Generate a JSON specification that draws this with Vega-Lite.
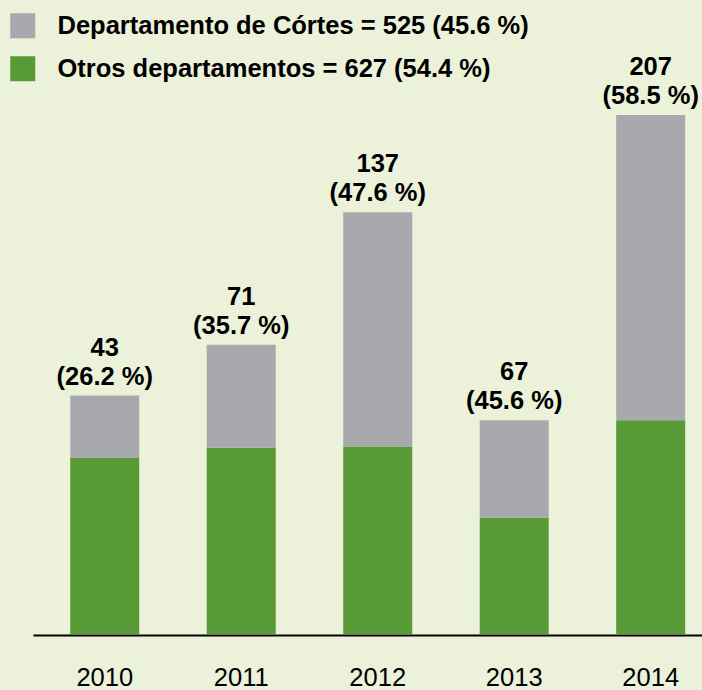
{
  "$schema": "https://vega.github.io/schema/vega-lite/v6.json",
  "width": 669,
  "height": 634,
  "autosize": {"type": "none"},
  "padding": {"left": 33, "top": 0, "right": 0, "bottom": 56},
  "background": "#ebf2d9",
  "config": {"view": {"stroke": null}, "font": "Liberation Sans"},
  "datasets": {
    "bars": [
      {"year": "2010", "dept": "Otros departamentos = 627 (54.4 %)", "value": 121},
      {"year": "2010", "dept": "Departamento de Córtes = 525 (45.6 %)", "value": 43},
      {"year": "2011", "dept": "Otros departamentos = 627 (54.4 %)", "value": 128},
      {"year": "2011", "dept": "Departamento de Córtes = 525 (45.6 %)", "value": 71},
      {"year": "2012", "dept": "Otros departamentos = 627 (54.4 %)", "value": 129},
      {"year": "2012", "dept": "Departamento de Córtes = 525 (45.6 %)", "value": 161},
      {"year": "2013", "dept": "Otros departamentos = 627 (54.4 %)", "value": 80},
      {"year": "2013", "dept": "Departamento de Córtes = 525 (45.6 %)", "value": 67},
      {"year": "2014", "dept": "Otros departamentos = 627 (54.4 %)", "value": 147},
      {"year": "2014", "dept": "Departamento de Córtes = 525 (45.6 %)", "value": 210}
    ],
    "labels": [
      {"year": "2010", "n": "43", "pct": "(26.2 %)"},
      {"year": "2011", "n": "71", "pct": "(35.7 %)"},
      {"year": "2012", "n": "137", "pct": "(47.6 %)"},
      {"year": "2013", "n": "67", "pct": "(45.6 %)"},
      {"year": "2014", "n": "207", "pct": "(58.5 %)"}
    ]
  },
  "data": {"name": "bars"},
  "encoding": {
    "x": {
      "field": "year",
      "type": "nominal",
      "scale": {"paddingInner": 0.4945, "paddingOuter": 0.198, "align": 0.689},
      "axis": {
        "title": null,
        "domainColor": "black",
        "domainWidth": 2,
        "ticks": false,
        "tickSize": 0,
        "labelFontSize": 25.5,
        "labelColor": "black",
        "labelBaseline": "alphabetic",
        "labelPadding": 50,
        "offset": 1,
        "labelAngle": 0,
        "labelFont": "Liberation Sans"
      }
    }
  },
  "layer": [
    {
      "mark": {"type": "bar"},
      "encoding": {
        "y": {"field": "value", "type": "quantitative", "stack": "zero", "scale": {"domain": [0, 436]}, "axis": null},
        "color": {
          "field": "dept",
          "type": "nominal",
          "scale": {
            "domain": ["Departamento de Córtes = 525 (45.6 %)", "Otros departamentos = 627 (54.4 %)"],
            "range": ["#a7a9ac", "#589a35"]
          },
          "legend": {
            "orient": "none",
            "legendX": -23,
            "legendY": 13,
            "title": null,
            "symbolType": "square",
            "symbolSize": 625,
            "symbolStrokeWidth": 0,
            "symbolOpacity": 1,
            "labelFontSize": 25.5,
            "labelFontWeight": "bold",
            "labelColor": "black",
            "labelFont": "Liberation Sans",
            "labelOffset": 22,
            "rowPadding": 16,
            "padding": 0,
            "labelLimit": 800,
            "direction": "vertical"
          }
        },
        "order": {"field": "dept", "sort": "descending"}
      }
    },
    {
      "transform": [
        {"joinaggregate": [{"op": "sum", "field": "value", "as": "total"}], "groupby": ["year"]},
        {"filter": "indexof(datum.dept, 'Córtes') >= 0"},
        {"lookup": "year", "from": {"data": {"name": "labels"}, "key": "year", "fields": ["n", "pct"]}}
      ],
      "mark": {"type": "text", "fontSize": 25.5, "fontWeight": "bold", "baseline": "alphabetic", "dy": -40, "color": "black"},
      "encoding": {
        "y": {"field": "total", "type": "quantitative", "scale": {"domain": [0, 436]}},
        "text": {"field": "n"}
      }
    },
    {
      "transform": [
        {"joinaggregate": [{"op": "sum", "field": "value", "as": "total"}], "groupby": ["year"]},
        {"filter": "indexof(datum.dept, 'Córtes') >= 0"},
        {"lookup": "year", "from": {"data": {"name": "labels"}, "key": "year", "fields": ["n", "pct"]}}
      ],
      "mark": {"type": "text", "fontSize": 25.5, "fontWeight": "bold", "baseline": "alphabetic", "dy": -11, "color": "black"},
      "encoding": {
        "y": {"field": "total", "type": "quantitative", "scale": {"domain": [0, 436]}},
        "text": {"field": "pct"}
      }
    }
  ]
}
